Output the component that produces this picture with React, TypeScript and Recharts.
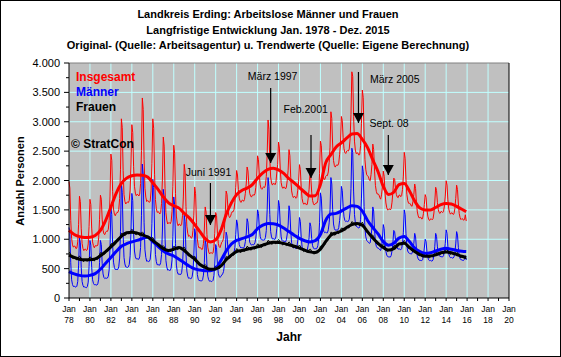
import React from "react";
import {
  LineChart,
  Line,
  XAxis,
  YAxis,
  CartesianGrid,
  ReferenceLine,
  ReferenceDot,
} from "recharts";

const startYear = 1978;

// monthly values, one row per year (Jan..Dec), 1978-2015
const menRaw = [
  [1200, 1100, 600, 310, 230, 195, 200, 190, 185, 200, 280, 560],
  [1020, 940, 520, 280, 215, 185, 190, 180, 175, 195, 270, 540],
  [980, 900, 520, 310, 250, 225, 230, 220, 220, 240, 320, 600],
  [980, 910, 590, 410, 350, 330, 340, 335, 340, 370, 480, 860],
  [1530, 1420, 900, 610, 520, 485, 490, 480, 490, 530, 680, 1130],
  [1950, 1800, 1090, 690, 580, 530, 525, 520, 530, 570, 720, 1120],
  [1780, 1660, 1110, 800, 700, 665, 670, 660, 660, 700, 860, 1400],
  [2280, 2100, 1280, 820, 690, 625, 630, 620, 625, 660, 820, 1270],
  [2020, 1880, 1140, 740, 620, 565, 570, 560, 560, 600, 740, 1140],
  [1850, 1710, 1020, 640, 530, 475, 480, 470, 470, 510, 650, 1050],
  [1720, 1590, 930, 560, 450, 405, 410, 400, 400, 430, 560, 860],
  [1410, 1300, 760, 460, 370, 335, 340, 330, 330, 360, 460, 710],
  [1180, 1090, 650, 400, 320, 295, 300, 290, 290, 310, 390, 600],
  [980, 910, 560, 370, 310, 285, 290, 280, 285, 300, 380, 580],
  [910, 860, 580, 420, 370, 350, 370, 390, 410, 450, 560, 800],
  [1120, 1060, 850, 720, 690, 700, 720, 730, 740, 770, 860, 1080],
  [1330, 1260, 1040, 910, 870, 850, 860, 855, 850, 880, 960, 1090],
  [1350, 1290, 1080, 950, 920, 900, 910, 905, 910, 940, 1020, 1180],
  [1500, 1440, 1200, 1050, 1000, 985, 990, 985, 990, 1030, 1150, 1500],
  [2050, 1900, 1420, 1130, 1040, 1005, 1010, 1000, 1000, 1040, 1180, 1300],
  [1660, 1570, 1240, 1040, 980, 965, 970, 960, 955, 990, 1090, 1240],
  [1570, 1480, 1140, 940, 880, 855, 860, 850, 845, 870, 970, 1100],
  [1370, 1300, 1030, 870, 820, 805, 810, 800, 795, 820, 900, 1030],
  [1280, 1220, 1010, 890, 850, 835, 840, 835, 845, 890, 1000, 1280],
  [1790, 1700, 1380, 1190, 1130, 1110, 1120, 1110, 1110, 1160, 1280, 1500],
  [2050, 1940, 1510, 1260, 1180, 1155, 1160, 1150, 1160, 1200, 1320, 1480],
  [1900, 1830, 1560, 1380, 1320, 1300, 1310, 1300, 1305, 1340, 1480, 1860],
  [2550, 2480, 1820, 1420, 1280, 1220, 1210, 1200, 1190, 1210, 1340, 1700],
  [2250, 2150, 1560, 1180, 1040, 980, 960, 950, 930, 940, 1040, 1200],
  [1550, 1480, 1160, 950, 880, 855, 850, 840, 820, 810, 870, 1000],
  [1250, 1180, 930, 790, 730, 705, 700, 700, 695, 720, 800, 940],
  [1150, 1130, 990, 890, 850, 830, 840, 830, 820, 840, 920, 1120],
  [1500, 1420, 1100, 880, 800, 770, 760, 755, 750, 760, 830, 930],
  [1100, 1040, 830, 710, 665, 645, 640, 640, 635, 650, 720, 850],
  [1000, 960, 790, 690, 650, 635, 640, 630, 630, 650, 720, 880],
  [1100, 1050, 870, 760, 720, 705, 710, 700, 700, 720, 790, 930],
  [1160, 1100, 880, 750, 705, 685, 690, 680, 680, 700, 770, 920],
  [1130, 1070, 860, 720, 670, 650, 650, 640, 640, 660, 720, 650],
];

const womenRaw = [
  [780, 770, 720, 705, 675, 670, 685, 690, 655, 650, 675, 695],
  [712, 700, 668, 648, 628, 622, 640, 652, 632, 625, 650, 678],
  [700, 690, 670, 645, 640, 630, 660, 670, 665, 660, 705, 740],
  [770, 772, 753, 745, 742, 748, 780, 802, 793, 800, 837, 875],
  [920, 925, 910, 905, 905, 915, 950, 973, 967, 975, 1013, 1052],
  [1100, 1100, 1080, 1070, 1065, 1070, 1100, 1112, 1094, 1091, 1118, 1145],
  [1170, 1157, 1125, 1102, 1085, 1077, 1095, 1100, 1076, 1067, 1088, 1109],
  [1125, 1109, 1073, 1047, 1027, 1016, 1030, 1031, 1002, 987, 1003, 1019],
  [1030, 1008, 967, 935, 908, 892, 900, 900, 870, 855, 870, 885],
  [890, 875, 840, 815, 795, 785, 800, 812, 795, 792, 820, 848],
  [880, 875, 850, 835, 825, 825, 850, 855, 830, 820, 840, 860],
  [865, 841, 797, 762, 733, 714, 720, 719, 688, 672, 686, 700],
  [710, 685, 640, 605, 575, 555, 560, 562, 535, 522, 540, 557],
  [570, 555, 520, 495, 475, 465, 480, 491, 472, 468, 494, 520],
  [545, 543, 522, 510, 503, 507, 535, 560, 556, 567, 608, 649],
  [700, 703, 687, 680, 678, 687, 720, 739, 728, 732, 766, 800],
  [840, 833, 807, 790, 778, 777, 800, 813, 796, 794, 822, 850],
  [880, 873, 847, 830, 818, 817, 840, 853, 836, 834, 862, 890],
  [920, 915, 890, 875, 865, 865, 890, 905, 890, 890, 920, 950],
  [980, 973, 947, 930, 918, 917, 940, 949, 928, 923, 947, 971],
  [995, 982, 950, 927, 910, 902, 920, 926, 902, 893, 914, 935],
  [955, 941, 907, 883, 863, 854, 870, 876, 852, 843, 864, 885],
  [900, 884, 848, 822, 802, 791, 805, 811, 787, 778, 799, 820],
  [835, 823, 792, 770, 753, 747, 765, 782, 770, 772, 805, 837],
  [880, 892, 883, 885, 892, 908, 950, 977, 973, 985, 1027, 1068],
  [1120, 1117, 1093, 1080, 1072, 1073, 1100, 1114, 1098, 1097, 1126, 1155],
  [1190, 1190, 1170, 1160, 1155, 1160, 1190, 1208, 1195, 1197, 1230, 1263],
  [1300, 1293, 1267, 1250, 1238, 1237, 1260, 1266, 1242, 1232, 1253, 1274],
  [1290, 1262, 1213, 1175, 1142, 1118, 1120, 1113, 1077, 1055, 1063, 1072],
  [1070, 1045, 1000, 965, 935, 915, 920, 919, 888, 872, 886, 900],
  [910, 892, 855, 827, 805, 792, 805, 819, 803, 802, 831, 860],
  [890, 893, 877, 870, 868, 877, 910, 922, 904, 901, 928, 955],
  [980, 958, 917, 885, 858, 842, 850, 849, 818, 802, 816, 830],
  [840, 822, 783, 755, 732, 718, 730, 735, 710, 700, 720, 740],
  [760, 751, 722, 703, 688, 684, 705, 718, 701, 699, 727, 755],
  [785, 781, 757, 743, 733, 734, 760, 772, 754, 751, 778, 805],
  [835, 822, 790, 767, 750, 742, 760, 766, 742, 733, 754, 775],
  [790, 775, 740, 715, 695, 685, 700, 707, 683, 675, 697, 660],
];

const totalRaw = [
  [1980, 1870, 1320, 1015, 905, 865, 885, 880, 840, 850, 955, 1255],
  [1732, 1640, 1188, 928, 843, 807, 830, 832, 807, 820, 920, 1218],
  [1680, 1590, 1190, 955, 890, 855, 890, 890, 885, 900, 1025, 1340],
  [1750, 1682, 1343, 1155, 1092, 1078, 1120, 1137, 1133, 1170, 1317, 1735],
  [2450, 2345, 1810, 1515, 1425, 1400, 1440, 1453, 1457, 1505, 1693, 2182],
  [3050, 2900, 2170, 1760, 1645, 1600, 1625, 1632, 1624, 1661, 1838, 2265],
  [2950, 2817, 2235, 1902, 1785, 1742, 1765, 1760, 1736, 1767, 1948, 2509],
  [3405, 3209, 2353, 1867, 1717, 1641, 1660, 1651, 1627, 1647, 1823, 2289],
  [3050, 2888, 2107, 1675, 1528, 1457, 1470, 1460, 1430, 1455, 1610, 2025],
  [2740, 2585, 1860, 1455, 1325, 1260, 1280, 1282, 1265, 1302, 1470, 1898],
  [2600, 2465, 1780, 1395, 1275, 1230, 1260, 1255, 1230, 1250, 1400, 1720],
  [2275, 2141, 1557, 1222, 1103, 1049, 1060, 1049, 1018, 1032, 1146, 1410],
  [1890, 1775, 1290, 1005, 895, 850, 860, 852, 825, 832, 930, 1157],
  [1550, 1465, 1080, 865, 785, 750, 770, 771, 757, 768, 874, 1100],
  [1455, 1403, 1102, 930, 873, 857, 905, 950, 966, 1017, 1168, 1449],
  [1820, 1763, 1537, 1400, 1368, 1387, 1440, 1469, 1468, 1502, 1626, 1880],
  [2170, 2093, 1847, 1700, 1648, 1627, 1660, 1668, 1646, 1674, 1782, 1940],
  [2230, 2163, 1927, 1780, 1738, 1717, 1750, 1758, 1746, 1774, 1882, 2070],
  [2420, 2355, 2090, 1925, 1865, 1850, 1880, 1890, 1880, 1920, 2070, 2450],
  [3030, 2873, 2367, 2060, 1958, 1922, 1950, 1949, 1928, 1963, 2127, 2271],
  [2655, 2552, 2190, 1967, 1890, 1867, 1890, 1886, 1857, 1883, 2004, 2175],
  [2525, 2421, 2047, 1823, 1743, 1709, 1730, 1726, 1697, 1713, 1834, 1985],
  [2270, 2184, 1878, 1692, 1622, 1596, 1615, 1611, 1582, 1598, 1699, 1850],
  [2115, 2043, 1802, 1660, 1603, 1582, 1605, 1617, 1615, 1662, 1805, 2117],
  [2670, 2592, 2263, 2075, 2022, 2018, 2070, 2087, 2083, 2145, 2307, 2568],
  [3170, 3057, 2603, 2340, 2252, 2228, 2260, 2264, 2258, 2297, 2446, 2635],
  [3090, 3020, 2730, 2540, 2475, 2460, 2500, 2508, 2500, 2537, 2710, 3123],
  [3850, 3773, 3087, 2670, 2518, 2457, 2470, 2466, 2432, 2442, 2593, 2974],
  [3540, 3412, 2773, 2355, 2182, 2098, 2080, 2063, 2007, 1995, 2103, 2272],
  [2620, 2525, 2160, 1915, 1815, 1770, 1770, 1759, 1708, 1682, 1756, 1900],
  [2160, 2072, 1785, 1617, 1535, 1497, 1505, 1519, 1498, 1522, 1631, 1800],
  [2040, 2023, 1867, 1760, 1718, 1707, 1750, 1752, 1724, 1741, 1848, 2075],
  [2480, 2378, 2017, 1765, 1658, 1612, 1610, 1604, 1568, 1562, 1646, 1760],
  [1940, 1862, 1613, 1465, 1397, 1363, 1370, 1375, 1345, 1350, 1440, 1590],
  [1760, 1711, 1512, 1393, 1338, 1319, 1345, 1348, 1331, 1349, 1447, 1635],
  [1885, 1831, 1627, 1503, 1453, 1439, 1470, 1472, 1454, 1471, 1568, 1735],
  [1995, 1922, 1670, 1517, 1455, 1427, 1450, 1446, 1422, 1433, 1524, 1695],
  [1920, 1845, 1600, 1435, 1365, 1335, 1350, 1347, 1323, 1335, 1417, 1310],
];

// trend values every half year (Jan, Jul) from Jan 1978, last one Dec 2015
const totalTrend = [
  1150, 1080, 1045, 1030, 1035, 1065, 1150, 1320, 1550, 1780,
  1950, 2040, 2080, 2095, 2090, 2060, 1960, 1850, 1720, 1620,
  1570, 1530, 1440, 1360, 1250, 1130, 1010, 955, 990, 1150,
  1420, 1620, 1760, 1830, 1870, 1930, 2040, 2130, 2190, 2210,
  2180, 2120, 2030, 1960, 1880, 1800, 1735, 1740, 1930, 2300,
  2440, 2570, 2640, 2720, 2790, 2800, 2700, 2560, 2350, 2150,
  1900, 1760, 1800, 1930, 1950, 1820, 1650, 1530, 1500, 1500,
  1540, 1590, 1610, 1600, 1560, 1510, 1470,
];

const menTrend = [
  450, 410, 385, 375, 385, 415, 490, 590, 690, 790,
  880, 925, 955, 980, 1010, 1040, 960, 880, 800, 750,
  715, 660, 600, 540, 495, 475, 465, 465, 500, 640,
  800, 920, 980, 1010, 1040, 1080, 1180, 1240, 1270, 1265,
  1240, 1190, 1130, 1070, 1015, 975, 955, 975, 1080, 1320,
  1430, 1440, 1480, 1530, 1570, 1560, 1480, 1320, 1200, 1090,
  960, 900, 930, 1020, 1045, 960, 850, 790, 760, 770,
  800, 830, 845, 830, 810, 795, 790,
];

const womenTrend = [
  730, 690, 660, 650, 650, 665, 720, 790, 870, 960,
  1050, 1110, 1120, 1105, 1075, 1040, 980, 910, 840, 810,
  830, 860, 810, 730, 660, 570, 520, 490, 495, 545,
  650, 730, 790, 810, 830, 850, 870, 900, 930, 950,
  945, 930, 905, 880, 850, 815, 785, 775, 830, 960,
  1070, 1110, 1140, 1200, 1250, 1270, 1240, 1130, 1020, 930,
  860, 815, 840, 920, 930, 860, 790, 740, 710, 715,
  735, 770, 785, 770, 740, 710, 690,
];

const yearTicks = [
  1978, 1979, 1980, 1981, 1982, 1983, 1984, 1985, 1986, 1987, 1988,
  1989, 1990, 1991, 1992, 1993, 1994, 1995, 1996, 1997, 1998, 1999,
  2000, 2001, 2002, 2003, 2004, 2005, 2006, 2007, 2008, 2009, 2010,
  2011, 2012, 2013, 2014, 2015, 2016, 2017, 2018, 2019, 2020,
];
const gridYears = [
  1980, 1982, 1984, 1986, 1988, 1990, 1992, 1994, 1996, 1998, 2000,
  2002, 2004, 2006, 2008, 2010, 2012, 2014, 2016, 2018,
];
const valueTicks = [
  0, 250, 500, 750, 1000, 1250, 1500, 1750, 2000, 2250, 2500, 2750,
  3000, 3250, 3500, 3750, 4000,
];
const gridValues = [500, 1000, 1500, 2000, 2500, 3000, 3500];

// arrows: label, arrow x (year), line top, arrow tip, label centre
const annoLabels = ["Juni 1991", "März 1997", "Feb.2001", "März 2005", "Sept. 08"];
const annoX = [1991.5, 1997.25, 2001.1, 2005.63, 2008.48];
const annoTop = [1957, 3574, 2774, 3847, 2774];
const annoTip = [1243, 2298, 2043, 2979, 2094];
const annoTextX = [1991.32, 1997.44, 2000.59, 2009.09, 2008.55];
const annoTextY = [2150, 3779, 3212, 3728, 2974];

const data: any[] = menRaw.flat().map((m, i) => ({
  t: startYear + i / 12,
  men: m,
  women: womenRaw.flat()[i],
  total: totalRaw.flat()[i],
}));
const lastIdx = data.length - 1;
totalTrend.forEach((v, k) => {
  const i = Math.min(k * 6, lastIdx);
  data[i].totalTrend = v;
  data[i].menTrend = menTrend[k];
  data[i].womenTrend = womenTrend[k];
});

const fmt = (v: number) =>
  v >= 1000 ? `${Math.floor(v / 1000)}.${String(v % 1000).padStart(3, "0")}` : String(v);

function YearTick({ x, y, payload }: any) {
  const yr = payload.value;
  if (yr % 2 !== 0) return <g />;
  return (
    <g>
      <text x={x} y={y} dy={9} textAnchor="middle" fontSize={8.5} fill="#000">
        Jan
      </text>
      <text x={x} y={y} dy={20} textAnchor="middle" fontSize={8.5} fill="#000">
        {String(yr).slice(2)}
      </text>
    </g>
  );
}

function LeftTick({ x, y, payload }: any) {
  const v = payload.value;
  const major = v % 500 === 0;
  const edge = x + 9;
  return (
    <g>
      <line x1={edge - (major ? 5 : 3)} x2={edge} y1={y} y2={y} stroke="#000" />
      {major && (
        <text x={x} y={y} dy={4} textAnchor="end" fontSize={11} fill="#000">
          {fmt(v)}
        </text>
      )}
    </g>
  );
}

function RightTick({ x, y, payload }: any) {
  const v = payload.value;
  const major = v % 500 === 0;
  const edge = x - 5;
  return (
    <g>
      <line x1={edge} x2={edge + (major ? 5 : 3)} y1={y} y2={y} stroke="#000" />
      {major && (
        <text x={x} y={y} dy={4} textAnchor="start" fontSize={11} fill="#000">
          {fmt(v)}
        </text>
      )}
    </g>
  );
}

const arrowHead = (p: any) => (
  <polygon
    points={`${p.cx - 5.5},${p.cy - 10} ${p.cx + 5.5},${p.cy - 10} ${p.cx},${p.cy}`}
    fill="#000"
  />
);

const textShape = (label: string) => (p: any) => (
  <text x={p.cx} y={p.cy} dy={4} textAnchor="middle" fontSize={10.5} fill="#000">
    {label}
  </text>
);

const legendStyle: React.CSSProperties = {
  position: "absolute",
  fontSize: 12,
  fontWeight: "bold",
  lineHeight: "14px",
  whiteSpace: "nowrap",
};

export default function App() {
  return (
    <div
      style={{
        position: "absolute",
        left: 0,
        top: 0,
        width: 561,
        height: 357,
        background: "#fff",
        fontFamily: "'Liberation Sans', Arial, sans-serif",
      }}
    >
      <LineChart
        width={561}
        height={357}
        data={data}
        margin={{ top: 63, right: 12, bottom: 29, left: 29 }}
      >
        <CartesianGrid
          yAxisId="l"
          fill="#c0c0c0"
          stroke="#c0ffff"
          horizontalValues={gridValues}
          verticalValues={gridYears}
        />
        <XAxis
          dataKey="t"
          type="number"
          domain={[1978, 2020]}
          ticks={yearTicks}
          interval={0}
          height={30}
          tickSize={3}
          tickMargin={2}
          tick={<YearTick />}
          axisLine={{ stroke: "#000" }}
          tickLine={{ stroke: "#000" }}
        />
        <YAxis
          yAxisId="l"
          domain={[0, 4000]}
          ticks={valueTicks}
          interval={0}
          width={40}
          tickSize={5}
          tickMargin={4}
          tickLine={false}
          tick={<LeftTick />}
          axisLine={{ stroke: "#000" }}
        />
        <YAxis
          yAxisId="r"
          orientation="right"
          domain={[0, 4000]}
          ticks={valueTicks}
          interval={0}
          width={40}
          tickSize={5}
          tickMargin={0}
          tickLine={false}
          tick={<RightTick />}
          axisLine={{ stroke: "#000" }}
        />
        <ReferenceLine yAxisId="l" y={4000} stroke="#808080" />

        <Line yAxisId="l" dataKey="total" type="linear" stroke="#ff0000" strokeWidth={1} dot={false} isAnimationActive={false} />
        <Line yAxisId="l" dataKey="men" type="linear" stroke="#0000ff" strokeWidth={1} dot={false} isAnimationActive={false} />
        <Line yAxisId="l" dataKey="women" type="linear" stroke="#000000" strokeWidth={1} dot={false} isAnimationActive={false} />
        <Line yAxisId="l" dataKey="totalTrend" type="monotone" connectNulls stroke="#ff0000" strokeWidth={3} dot={false} isAnimationActive={false} />
        <Line yAxisId="l" dataKey="menTrend" type="monotone" connectNulls stroke="#0000ff" strokeWidth={3} dot={false} isAnimationActive={false} />
        <Line yAxisId="l" dataKey="womenTrend" type="monotone" connectNulls stroke="#000000" strokeWidth={3} dot={false} isAnimationActive={false} />

        {annoLabels.map((label, k) => (
          <ReferenceLine
            key={`l${k}`}
            yAxisId="l"
            segment={[
              { x: annoX[k], y: annoTop[k] },
              { x: annoX[k], y: annoTip[k] },
            ]}
            stroke="#000"
            strokeWidth={1.2}
          />
        ))}
        {annoLabels.map((label, k) => (
          <ReferenceDot key={`h${k}`} yAxisId="l" x={annoX[k]} y={annoTip[k]} r={0} shape={arrowHead} />
        ))}
        {annoLabels.map((label, k) => (
          <ReferenceDot key={`t${k}`} yAxisId="l" x={annoTextX[k]} y={annoTextY[k]} r={0} shape={textShape(label)} />
        ))}
      </LineChart>

      <div
        style={{
          position: "absolute",
          left: 0,
          top: 7,
          width: 536,
          textAlign: "center",
          fontSize: 11,
          fontWeight: "bold",
          lineHeight: "15.5px",
        }}
      >
        <div>Landkreis Erding: Arbeitslose Männer und Frauen</div>
        <div>Langfristige Entwicklung Jan. 1978 - Dez. 2015</div>
        <div>Original- (Quelle: Arbeitsagentur) u. Trendwerte (Quelle: Eigene Berechnung)</div>
      </div>

      <div style={{ ...legendStyle, left: 76, top: 70, color: "#ff0000" }}>Insgesamt</div>
      <div style={{ ...legendStyle, left: 76, top: 85, color: "#0000ff" }}>Männer</div>
      <div style={{ ...legendStyle, left: 76, top: 100, color: "#000" }}>Frauen</div>
      <div style={{ ...legendStyle, left: 71, top: 137, color: "#000" }}>© StratCon</div>

      <div
        style={{
          position: "absolute",
          left: 20,
          top: 181,
          transform: "translate(-50%, -50%) rotate(-90deg)",
          fontSize: 11,
          fontWeight: "bold",
          whiteSpace: "nowrap",
        }}
      >
        Anzahl Personen
      </div>
      <div
        style={{
          position: "absolute",
          left: 289,
          top: 337,
          transform: "translate(-50%, -50%)",
          fontSize: 12,
          fontWeight: "bold",
        }}
      >
        Jahr
      </div>

      <div
        style={{
          position: "absolute",
          left: 0,
          top: 0,
          width: 559,
          height: 355,
          border: "1px solid #000",
          pointerEvents: "none",
        }}
      />
    </div>
  );
}
